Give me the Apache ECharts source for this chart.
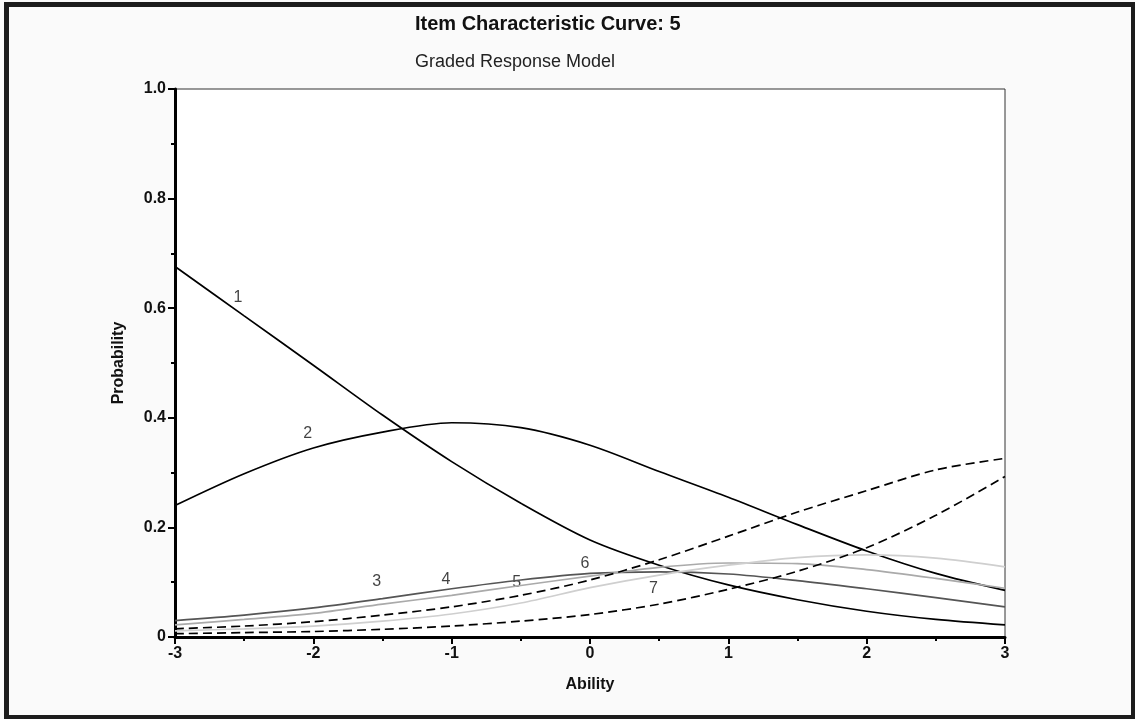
<!DOCTYPE html>
<html>
<head>
<meta charset="utf-8">
<script src="https://cdn.jsdelivr.net/npm/echarts@6/dist/echarts.min.js"></script>
<style>
  html, body { margin: 0; padding: 0; background: #fafafa; }
  #chart { width: 1135px; height: 719px; }
  #frame {
    position: absolute; left: 4px; top: 2px; width: 1131px; height: 717px;
    box-sizing: border-box; border: solid #1c1c1c; border-width: 5px 4px 4px 5px;
    pointer-events: none;
  }
</style>
</head>
<body>
<div id="chart"></div>
<div id="frame"></div>
<script>
const abilities = [-3, -2.5, -2, -1.5, -1, -0.5, 0, 0.5, 1, 1.5, 2, 2.5, 3]

// category probabilities, one array per response category
const cat1 = [0.676, 0.586, 0.496, 0.405, 0.320, 0.244, 0.177, 0.131, 0.095, 0.068, 0.047, 0.032, 0.022]
const cat2 = [0.240, 0.298, 0.345, 0.374, 0.391, 0.382, 0.350, 0.302, 0.255, 0.205, 0.157, 0.116, 0.085]
const cat3 = [0.030, 0.040, 0.053, 0.070, 0.088, 0.104, 0.116, 0.119, 0.115, 0.103, 0.088, 0.072, 0.055]
const cat4 = [0.022, 0.032, 0.043, 0.060, 0.076, 0.094, 0.111, 0.127, 0.135, 0.134, 0.123, 0.107, 0.089]
const cat5 = [0.011, 0.015, 0.020, 0.029, 0.042, 0.062, 0.090, 0.113, 0.131, 0.145, 0.150, 0.144, 0.128]
const cat6 = [0.015, 0.020, 0.028, 0.040, 0.055, 0.076, 0.104, 0.141, 0.184, 0.228, 0.267, 0.305, 0.326]
const cat7 = [0.006, 0.008, 0.010, 0.014, 0.020, 0.029, 0.041, 0.060, 0.087, 0.120, 0.163, 0.222, 0.293]

// curve number labels and where they sit
const labelText = ['1', '2', '3', '4', '5', '6', '7']
const labelX = [-2.545, -2.041, -1.542, -1.041, -0.530, -0.036, 0.458]
const labelY = [0.620, 0.372, 0.101, 0.104, 0.099, 0.134, 0.089]

const yTickLabels = ['0', '0.2', '0.4', '0.6', '0.8', '1.0']
const xTickLabels = ['-3', '-2', '-1', '0', '1', '2', '3']

const FONT = '"Liberation Sans", Arial, sans-serif'

const toPairs = (vals) => abilities.map((a, i) => [a, vals[i]])

const curve = (name, vals, color, type) => ({
  name,
  type: 'line',
  data: toPairs(vals),
  smooth: 0.3,
  symbol: 'none',
  silent: true,
  lineStyle: { color, width: 1.7, type: type || 'solid' }
})

const chart = echarts.init(document.getElementById('chart'), null, { renderer: 'canvas' })

const option = {
  animation: false,
  backgroundColor: 'transparent',
  title: [
    {
      text: 'Item Characteristic Curve: 5',
      left: 410,
      top: 9,
      textStyle: { fontFamily: FONT, fontSize: 20, fontWeight: 'bold', color: '#111' }
    },
    {
      text: 'Graded Response Model',
      left: 410,
      top: 48,
      textStyle: { fontFamily: FONT, fontSize: 18, fontWeight: 'normal', color: '#222' }
    }
  ],
  grid: {
    left: 175,
    right: 130,
    top: 89,
    bottom: 82,
    show: true,
    backgroundColor: '#ffffff',
    borderColor: '#333',
    borderWidth: 1
  },
  xAxis: {
    type: 'value',
    min: -3,
    max: 3,
    interval: 1,
    name: 'Ability',
    nameLocation: 'middle',
    nameGap: 40,
    nameTextStyle: { fontFamily: FONT, fontSize: 16, fontWeight: 'bold', color: '#111' },
    axisLine: { show: true, onZero: false, lineStyle: { color: '#000', width: 3 } },
    axisTick: { show: true, length: 7, lineStyle: { color: '#000', width: 2 } },
    minorTick: { show: true, splitNumber: 2, length: 4, lineStyle: { color: '#000', width: 2 } },
    axisLabel: {
      fontFamily: FONT, fontSize: 16, fontWeight: 'bold', color: '#111', margin: 9,
      formatter: (v) => xTickLabels[Math.round(v + 3)]
    },
    splitLine: { show: false }
  },
  yAxis: {
    type: 'value',
    min: 0,
    max: 1,
    interval: 0.2,
    name: 'Probability',
    nameLocation: 'middle',
    nameGap: 48,
    nameTextStyle: { fontFamily: FONT, fontSize: 16, fontWeight: 'bold', color: '#111' },
    axisLine: { show: true, onZero: false, lineStyle: { color: '#000', width: 3 } },
    axisTick: { show: true, length: 7, lineStyle: { color: '#000', width: 2 } },
    minorTick: { show: true, splitNumber: 2, length: 4, lineStyle: { color: '#000', width: 2 } },
    axisLabel: {
      fontFamily: FONT, fontSize: 16, fontWeight: 'bold', color: '#111', margin: 9,
      formatter: (v) => yTickLabels[Math.round(v * 5)]
    },
    splitLine: { show: false }
  },
  series: [
    curve('1', cat1, '#000'),
    curve('2', cat2, '#000'),
    curve('3', cat3, '#555'),
    curve('4', cat4, '#aaa'),
    curve('5', cat5, '#cfcfcf'),
    curve('6', cat6, '#000', [9, 5]),
    curve('7', cat7, '#000', [9, 5]),
    {
      name: 'labels',
      type: 'scatter',
      silent: true,
      symbolSize: 0,
      data: labelText.map((t, i) => ({ value: [labelX[i], labelY[i]], name: t })),
      label: {
        show: true,
        position: 'inside',
        formatter: (p) => p.name,
        fontFamily: FONT,
        fontSize: 16,
        color: '#111'
      }
    }
  ]
}

chart.setOption(option)

window.addEventListener('resize', () => chart.resize())
</script>
</body>
</html>
